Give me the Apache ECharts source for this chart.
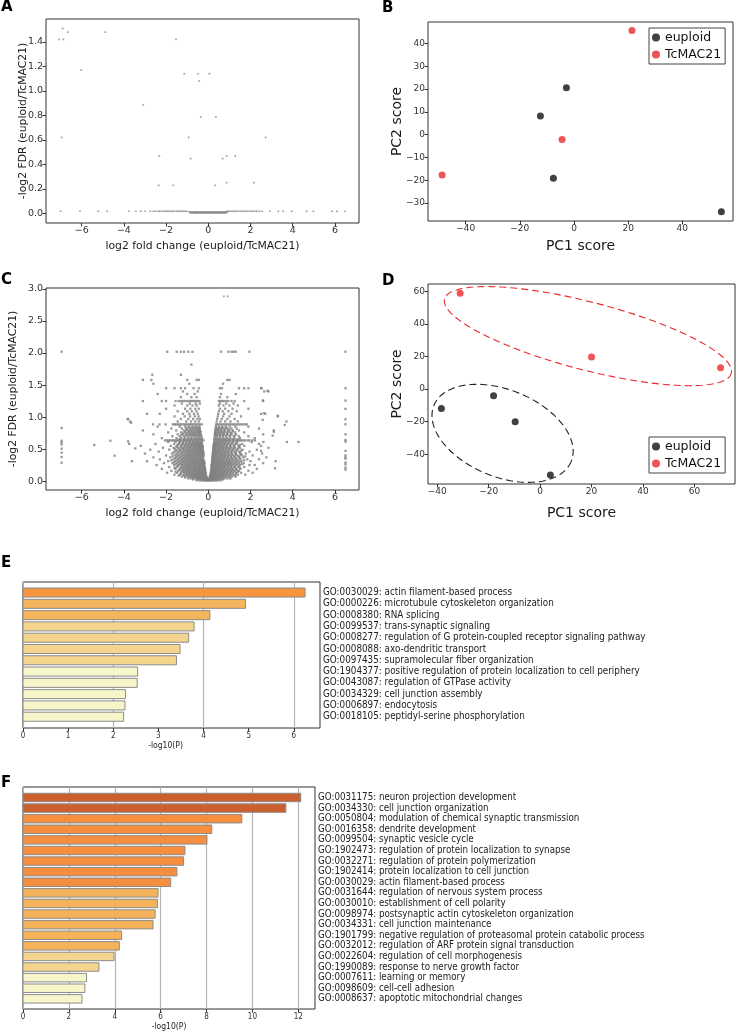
<!DOCTYPE html>
<html><head><meta charset="utf-8">
<script src="https://cdn.jsdelivr.net/npm/echarts@6/dist/echarts.min.js"></script>
<style>html,body{margin:0;padding:0;background:#fff}#c{width:736px;height:1036px}</style>
</head><body><div id="c"></div><script>
// ---------- Panel A : volcano (few significant genes) ----------
const aScatter = [[-6.90,1.51],[-7.07,1.42],[-6.87,1.42],[-6.66,1.48],[-4.88,1.48],[-1.53,1.42],[-6.02,1.17],[-1.14,1.14],[-0.49,1.14],[0.05,1.14],[-0.43,1.08],[-3.08,0.885],[-0.36,0.787],[0.36,0.787],[-6.95,0.62],[-0.93,0.62],[2.72,0.62],[-2.32,0.468],[-0.84,0.447],[0.68,0.447],[0.87,0.468],[1.28,0.468],[-2.35,0.229],[-1.66,0.229],[0.33,0.229],[0.87,0.25],[2.16,0.25]];
const aBaseY = 0.017;
const aBaseX = [-7.0,-6.08,-5.21,-4.79,-3.76,-3.43,-3.2,-3.0,-2.75,-2.6,-2.5,-2.38,-2.3,-2.2,-2.1,-2.02,-1.93,-1.85,-1.76,-1.68,-1.6,-1.5,-1.42,-1.35,-1.27,-1.18,-1.1,-1.03,0.9,0.98,1.06,1.15,1.24,1.32,1.4,1.5,1.58,1.67,1.75,1.84,1.93,2.02,2.1,2.2,2.3,2.42,2.55,2.92,3.32,3.55,3.95,4.66,4.98,5.85,6.09,6.48];
const aCoreHiY = 0.011;
const aCoreHiX = [-0.92,-0.86,-0.81,-0.77,-0.72,-0.66,-0.61,-0.57,-0.52,-0.46,-0.41,-0.37,-0.32,-0.27,-0.22,-0.18,-0.13,-0.08,-0.04,0.01,0.05,0.1,0.14,0.19,0.24,0.28,0.33,0.38,0.43,0.47,0.52,0.57,0.62,0.66,0.71,0.76,0.81,0.86,0.9];
const aCoreLoY = 0.004;
const aCoreLoX = [-0.85,-0.79,-0.74,-0.69,-0.63,-0.58,-0.54,-0.49,-0.43,-0.39,-0.34,-0.29,-0.24,-0.2,-0.15,-0.1,-0.06,-0.02,0.03,0.07,0.12,0.16,0.21,0.26,0.31,0.35,0.4,0.45,0.5,0.55,0.59,0.64,0.69,0.74,0.79,0.84];

// ---------- Panel B : PCA ----------
const bEuploid = [[-2.8,20.6],[-12.4,8.2],[-7.6,-19.2],[54.4,-33.8]];
const bTcMAC21 = [[21.4,45.7],[-4.4,-2.2],[-48.7,-17.7]];

// ---------- Panel C : volcano (many genes) ----------
const cLevelY = [0.01,0.04,0.07,0.10,0.13,0.16,0.19,0.22,0.25,0.28,0.31,0.34,0.37,0.40,0.43,0.46,0.49,0.52,0.55,0.58,0.61,0.635,0.67,0.70,0.73,0.76,0.79,0.82,0.85,0.885,0.93,0.97,1.01,1.05,1.09,1.13,1.18,1.21,1.25,1.31,1.36,1.40,1.45,1.52,1.58,1.66,1.82,2.02];
const cLevelX = [
 [-0.55,-0.42,-0.33,-0.25,-0.18,-0.12,-0.07,-0.03,0.02,0.06,0.11,0.16,0.22,0.29,0.37,0.46,0.58],
 [-0.95,-0.8,-0.68,-0.57,-0.47,-0.39,-0.31,-0.24,-0.17,-0.1,-0.05,0.05,0.1,0.16,0.23,0.31,0.4,0.5,0.62,0.75,0.9,1.05],
 [-1.25,-1.08,-0.94,-0.82,-0.71,-0.6,-0.5,-0.41,-0.33,-0.25,-0.17,-0.09,0.08,0.15,0.23,0.31,0.4,0.49,0.59,0.7,0.83,0.97,1.12,1.3],
 [-1.6,-1.35,-1.17,-1.02,-0.9,-0.79,-0.68,-0.58,-0.48,-0.39,-0.3,-0.21,-0.13,0.1,0.18,0.27,0.36,0.45,0.55,0.66,0.77,0.89,1.03,1.18,1.4,1.75],
 [-1.95,-1.48,-1.3,-1.14,-1.0,-0.87,-0.75,-0.63,-0.53,-0.43,-0.34,-0.25,-0.15,0.12,0.21,0.3,0.4,0.5,0.61,0.73,0.86,1.0,1.15,1.32,1.55,2.1],
 [-1.75,-1.42,-1.25,-1.1,-0.96,-0.83,-0.71,-0.6,-0.49,-0.39,-0.29,-0.18,0.14,0.24,0.35,0.45,0.56,0.68,0.8,0.94,1.09,1.26,1.45,1.9],
 [-2.2,-1.55,-1.36,-1.2,-1.05,-0.92,-0.79,-0.67,-0.56,-0.45,-0.35,-0.24,-0.16,0.15,0.26,0.37,0.48,0.6,0.72,0.85,0.99,1.14,1.31,1.52,2.3],
 [-1.85,-1.5,-1.31,-1.15,-1.0,-0.87,-0.74,-0.62,-0.5,-0.39,-0.27,-0.17,0.17,0.28,0.4,0.52,0.64,0.77,0.91,1.06,1.22,1.41,1.7],
 [-2.45,-1.62,-1.42,-1.25,-1.09,-0.95,-0.82,-0.69,-0.57,-0.45,-0.33,-0.22,0.16,0.25,0.36,0.47,0.59,0.71,0.84,0.98,1.13,1.3,1.5,1.95,2.2],
 [-2.1,-1.7,-1.48,-1.3,-1.14,-1.0,-0.86,-0.73,-0.61,-0.49,-0.37,-0.25,-0.18,0.18,0.3,0.42,0.54,0.66,0.79,0.93,1.08,1.25,1.44,1.68,2.6],
 [-2.9,-1.9,-1.56,-1.37,-1.2,-1.05,-0.91,-0.78,-0.65,-0.53,-0.41,-0.3,-0.2,0.19,0.28,0.39,0.5,0.62,0.75,0.89,1.03,1.19,1.37,1.58,2.0],
 [-2.3,-1.65,-1.44,-1.26,-1.1,-0.96,-0.83,-0.7,-0.58,-0.46,-0.34,-0.23,0.2,0.32,0.44,0.57,0.7,0.84,0.98,1.14,1.31,1.52,1.85,2.4],
 [-2.6,-1.8,-1.52,-1.33,-1.16,-1.01,-0.87,-0.74,-0.62,-0.5,-0.38,-0.27,0.2,0.29,0.4,0.52,0.65,0.78,0.92,1.07,1.24,1.43,1.66,2.75],
 [-2.0,-1.6,-1.4,-1.22,-1.06,-0.92,-0.79,-0.66,-0.54,-0.42,-0.3,-0.22,0.21,0.33,0.46,0.59,0.72,0.86,1.01,1.18,1.37,1.6,2.1],
 [-3.0,-1.72,-1.47,-1.28,-1.12,-0.97,-0.83,-0.7,-0.58,-0.46,-0.35,-0.24,0.22,0.31,0.42,0.55,0.68,0.82,0.97,1.13,1.31,1.52,1.78,2.55],
 [-2.35,-1.58,-1.38,-1.2,-1.04,-0.9,-0.77,-0.64,-0.52,-0.4,-0.28,0.23,0.35,0.48,0.61,0.75,0.9,1.06,1.24,1.45,1.95],
 [-2.75,-1.85,-1.53,-1.33,-1.16,-1.0,-0.86,-0.73,-0.6,-0.48,-0.36,-0.26,0.24,0.33,0.45,0.58,0.71,0.85,1.0,1.17,1.36,1.62,2.3],
 [-2.15,-1.64,-1.42,-1.24,-1.08,-0.93,-0.79,-0.66,-0.54,-0.42,-0.3,0.25,0.37,0.5,0.63,0.77,0.92,1.08,1.27,1.5,2.85],
 [-3.2,-1.78,-1.5,-1.3,-1.13,-0.98,-0.84,-0.71,-0.58,-0.46,-0.35,-0.27,0.25,0.34,0.46,0.59,0.73,0.88,1.04,1.22,1.43,1.7],
 [-2.5,-1.62,-1.4,-1.22,-1.06,-0.91,-0.77,-0.64,-0.52,-0.4,-0.3,0.27,0.38,0.51,0.65,0.8,0.96,1.14,1.35,1.6,2.4],
 [-1.9,-1.55,-1.34,-1.17,-1.01,-0.87,-0.73,-0.6,-0.48,-0.36,0.28,0.4,0.54,0.68,0.83,0.99,1.17,1.38,2.05],
 [-2.05,-1.96,-1.87,-1.81,-1.72,-1.66,-1.57,-1.5,-1.44,-1.35,-1.3,-1.21,-1.15,-1.07,-1.02,-0.93,-0.88,-0.79,-0.74,-0.66,-0.6,-0.51,-0.46,-0.37,-0.3,-0.23,0.29,0.36,0.45,0.5,0.59,0.64,0.73,0.78,0.87,0.92,1.01,1.06,1.15,1.2,1.29,1.36,1.43,1.51,1.57,1.67,1.74,1.86,1.94,2.08,2.21],
 [-2.2,-1.5,-1.28,-1.1,-0.94,-0.8,-0.66,-0.53,-0.41,-0.3,0.3,0.43,0.57,0.72,0.88,1.05,1.25,1.5,2.2],
 [-1.7,-1.36,-1.16,-0.99,-0.84,-0.7,-0.57,-0.44,-0.33,0.31,0.41,0.54,0.68,0.83,1.0,1.2,1.45,1.9],
 [-2.6,-1.45,-1.22,-1.04,-0.88,-0.74,-0.6,-0.47,-0.35,0.32,0.45,0.59,0.74,0.9,1.09,1.32,2.6],
 [-1.9,-1.3,-1.1,-0.93,-0.78,-0.64,-0.5,-0.38,0.33,0.43,0.56,0.7,0.86,1.04,1.27,1.7],
 [-3.1,-1.52,-1.17,-0.98,-0.82,-0.67,-0.53,-0.4,0.34,0.47,0.61,0.77,0.95,1.16,1.45,3.1],
 [-1.75,-1.25,-1.04,-0.87,-0.71,-0.56,-0.42,0.35,0.45,0.58,0.73,0.9,1.1,1.35,2.4],
 [-2.4,-1.35,-1.1,-0.91,-0.74,-0.59,-0.45,0.36,0.5,0.65,0.82,1.02,1.28,1.9],
 [-2.62,-2.31,-2.02,-1.68,-1.6,-1.53,-1.44,-1.36,-1.29,-1.19,-1.11,-1.03,-0.96,-0.87,-0.8,-0.71,-0.63,-0.56,-0.47,-0.4,-0.31,0.36,0.42,0.5,0.58,0.66,0.75,0.84,0.92,1.0,1.09,1.17,1.26,1.36,1.45,1.55,1.64,1.75,1.83],
 [-3.7,-1.45,-1.05,-0.82,-0.62,-0.45,0.4,0.58,0.8,1.05,1.4,3.7],
 [-3.8,-1.3,-0.95,-0.72,-0.52,-0.4,0.42,0.64,0.9,1.25],
 [-1.6,-1.12,-0.86,-0.64,-0.46,0.45,0.7,1.0,1.55,3.3],
 [-2.9,-2.3,-1.2,-0.9,-0.68,-0.5,0.47,0.75,1.1,2.5,2.7],
 [-1.45,-1.0,-0.78,-0.56,0.5,0.68,0.95,1.35],
 [-2.0,-1.1,-0.85,-0.62,-0.45,0.55,0.8,1.15,1.9],
 [-1.6,-1.0,-0.75,-0.55,0.5,0.72,1.0,1.4],
 [-1.25,-0.88,-0.6,-0.4,0.55,0.85,1.2],
 [-3.1,-2.2,-2.0,-1.55,-1.4,-1.3,-1.2,-1.1,-1.0,-0.9,-0.82,-0.74,-0.66,-0.58,-0.5,-0.42,0.5,0.58,0.66,0.75,0.85,0.95,1.1,1.25,1.7,2.6],
 [-1.3,-0.8,-0.55,0.55,0.9],
 [-2.4,-1.0,-0.65,0.6,1.3],
 [-1.2,-0.5,2.65,2.85],
 [-2.0,-1.6,-1.3,-1.1,-0.7,-0.45,0.55,0.65,1.45,1.7,1.9,2.5],
 [-2.6,-0.9,0.7],
 [-3.1,-2.7,-1.0,-0.55,-0.45,0.9,1.0],
 [-2.65,-1.3],
 [-0.8],
 [-1.95,-1.5,-1.3,-1.15,-0.95,-0.75,0.6,0.95,1.1,1.2,1.3,1.95]
];
// second, interleaved set of levels inside the dense core
const cCoreY = [0.025,0.055,0.085,0.115,0.145,0.175,0.205,0.235,0.265,0.295,0.325,0.355,0.385,0.415,0.445,0.475,0.505,0.535,0.565,0.595,0.655,0.715,0.745,0.775,0.805,0.835];
const cCoreX = [
 [-0.72,-0.5,-0.37,-0.28,-0.2,-0.14,-0.08,-0.02,0.04,0.09,0.13,0.19,0.26,0.34,0.44,0.56,0.7],
 [-1.1,-0.87,-0.74,-0.63,-0.53,-0.44,-0.36,-0.28,-0.2,-0.13,-0.07,0.06,0.12,0.2,0.27,0.35,0.45,0.55,0.68,0.82,1.0],
 [-1.4,-1.15,-1.0,-0.88,-0.76,-0.65,-0.55,-0.45,-0.37,-0.29,-0.21,-0.12,0.09,0.17,0.26,0.35,0.44,0.54,0.64,0.76,0.9,1.06,1.25],
 [-1.3,-1.1,-0.96,-0.84,-0.73,-0.62,-0.52,-0.43,-0.35,-0.26,-0.17,-0.11,0.11,0.2,0.29,0.38,0.48,0.58,0.69,0.81,0.95,1.1,1.3],
 [-1.55,-1.2,-1.06,-0.93,-0.81,-0.69,-0.58,-0.47,-0.38,-0.3,-0.2,-0.13,0.13,0.22,0.32,0.43,0.53,0.65,0.77,0.9,1.04,1.2,1.4],
 [-1.35,-1.17,-1.02,-0.89,-0.76,-0.64,-0.53,-0.43,-0.33,-0.22,-0.15,0.14,0.21,0.31,0.42,0.52,0.63,0.75,0.88,1.02,1.17,1.36],
 [-1.6,-1.26,-1.1,-0.96,-0.83,-0.7,-0.58,-0.47,-0.37,-0.26,-0.16,0.16,0.24,0.34,0.45,0.56,0.68,0.81,0.95,1.1,1.28,1.5],
 [-1.45,-1.22,-1.06,-0.92,-0.79,-0.66,-0.54,-0.42,-0.31,-0.2,0.15,0.22,0.32,0.43,0.55,0.67,0.8,0.94,1.09,1.26,1.45],
 [-1.55,-1.35,-1.18,-1.03,-0.89,-0.76,-0.63,-0.51,-0.39,-0.28,-0.19,0.17,0.27,0.38,0.5,0.62,0.75,0.88,1.03,1.19,1.37,1.6],
 [-1.62,-1.41,-1.24,-1.08,-0.94,-0.8,-0.67,-0.55,-0.43,-0.32,-0.22,0.18,0.24,0.35,0.46,0.58,0.71,0.84,0.98,1.14,1.31,1.5],
 [-1.75,-1.5,-1.31,-1.14,-0.99,-0.85,-0.72,-0.59,-0.47,-0.36,-0.25,0.19,0.26,0.37,0.49,0.62,0.76,0.9,1.06,1.23,1.42,1.7],
 [-1.58,-1.38,-1.2,-1.04,-0.9,-0.76,-0.63,-0.51,-0.4,-0.29,0.2,0.3,0.42,0.55,0.68,0.82,0.97,1.13,1.3,1.5],
 [-1.7,-1.46,-1.27,-1.1,-0.95,-0.81,-0.68,-0.56,-0.44,-0.33,-0.24,0.21,0.27,0.38,0.5,0.63,0.77,0.92,1.08,1.26,1.46,1.75],
 [-1.52,-1.32,-1.15,-1.0,-0.86,-0.72,-0.6,-0.48,-0.37,-0.27,0.21,0.3,0.41,0.53,0.66,0.8,0.95,1.11,1.3,1.55],
 [-1.65,-1.42,-1.24,-1.08,-0.93,-0.79,-0.66,-0.54,-0.42,-0.31,-0.23,0.22,0.28,0.39,0.51,0.64,0.78,0.93,1.09,1.28,1.5],
 [-1.48,-1.29,-1.12,-0.97,-0.83,-0.7,-0.57,-0.45,-0.34,-0.25,0.23,0.3,0.41,0.53,0.66,0.8,0.95,1.12,1.31,1.56],
 [-1.6,-1.38,-1.2,-1.04,-0.89,-0.75,-0.62,-0.5,-0.38,-0.28,0.24,0.31,0.43,0.56,0.7,0.85,1.01,1.19,1.4],
 [-1.5,-1.3,-1.13,-0.98,-0.84,-0.7,-0.57,-0.45,-0.34,-0.26,0.25,0.32,0.44,0.57,0.71,0.86,1.02,1.2,1.45],
 [-1.45,-1.26,-1.09,-0.94,-0.8,-0.67,-0.54,-0.43,-0.32,0.26,0.33,0.45,0.58,0.72,0.88,1.05,1.25,1.5],
 [-1.38,-1.2,-1.04,-0.89,-0.75,-0.62,-0.5,-0.39,-0.3,0.27,0.35,0.47,0.61,0.76,0.92,1.1,1.3],
 [-1.35,-1.15,-0.98,-0.83,-0.69,-0.56,-0.44,-0.33,0.29,0.39,0.52,0.66,0.81,0.98,1.18,1.4],
 [-1.28,-1.08,-0.91,-0.76,-0.62,-0.49,-0.37,0.31,0.42,0.55,0.7,0.86,1.04,1.26],
 [-1.2,-1.0,-0.84,-0.69,-0.55,-0.42,0.32,0.44,0.58,0.73,0.9,1.1],
 [-1.1,-0.92,-0.76,-0.61,-0.47,-0.36,0.34,0.46,0.6,0.76,0.94,1.15],
 [-1.05,-0.86,-0.7,-0.55,-0.42,0.35,0.48,0.63,0.8,1.0],
 [-0.98,-0.8,-0.64,-0.5,-0.4,0.37,0.52,0.68,0.86]
];
const cEdgeLeftX = -6.95;
const cEdgeLeftY = [2.02,0.83,0.63,0.605,0.574,0.506,0.443,0.376,0.287];
const cEdgeRightX = 6.5;
const cEdgeRightY = [2.02,1.45,1.257,1.127,0.965,0.887,0.73,0.64,0.615,0.47,0.40,0.37,0.35,0.29,0.26,0.21,0.18];
const cOuter = [[-3.82,0.965],[-3.66,0.912],[-4.64,0.63],[-5.4,0.563],[-3.8,0.62],[-3.75,0.58],[-3.46,0.51],[-4.44,0.396],[-3.62,0.31],[2.53,1.45],[2.8,1.41],[2.58,1.26],[2.64,1.06],[3.29,1.02],[2.58,0.955],[3.62,0.876],[3.11,0.77],[3.05,0.71],[2.61,0.61],[3.72,0.61],[4.27,0.61],[2.5,0.55],[2.5,0.47],[3.19,0.31],[3.16,0.2]];
const cTop = [[0.74,2.885],[0.92,2.885]];

// ---------- Panel D : PCA with ellipses ----------
const dEuploid = [[-38.4,-11.9],[-18.1,-4.1],[-9.7,-20.1],[4.0,-52.7]];
const dTcMAC21 = [[-31.1,58.8],[20.0,19.7],[70.2,13.1]];
// ellipse: centre x, centre y, semi-axis u (x,y), semi-axis v (x,y)
const dTcEllipse = [18.6,32.5,55.8,-22.5,-2.5,-20.5];
const dEuEllipse = [-14.6,-27.2,26.7,-17.2,-6.4,-24.7];

// ---------- Panel E : enrichment ----------
const eTerms = ["GO:0030029: actin filament-based process","GO:0000226: microtubule cytoskeleton organization","GO:0008380: RNA splicing","GO:0099537: trans-synaptic signaling","GO:0008277: regulation of G protein-coupled receptor signaling pathway","GO:0008088: axo-dendritic transport","GO:0097435: supramolecular fiber organization","GO:1904377: positive regulation of protein localization to cell periphery","GO:0043087: regulation of GTPase activity","GO:0034329: cell junction assembly","GO:0006897: endocytosis","GO:0018105: peptidyl-serine phosphorylation"];
const eValues = [6.25,4.93,4.14,3.79,3.67,3.48,3.40,2.54,2.53,2.27,2.26,2.23];
// ---------- Panel F : enrichment ----------
const fTerms = ["GO:0031175: neuron projection development","GO:0034330: cell junction organization","GO:0050804: modulation of chemical synaptic transmission","GO:0016358: dendrite development","GO:0099504: synaptic vesicle cycle","GO:1902473: regulation of protein localization to synapse","GO:0032271: regulation of protein polymerization","GO:1902414: protein localization to cell junction","GO:0030029: actin filament-based process","GO:0031644: regulation of nervous system process","GO:0030010: establishment of cell polarity","GO:0098974: postsynaptic actin cytoskeleton organization","GO:0034331: cell junction maintenance","GO:1901799: negative regulation of proteasomal protein catabolic process","GO:0032012: regulation of ARF protein signal transduction","GO:0022604: regulation of cell morphogenesis","GO:1990089: response to nerve growth factor","GO:0007611: learning or memory","GO:0098609: cell-cell adhesion","GO:0008637: apoptotic mitochondrial changes"];
const fValues = [12.11,11.46,9.54,8.23,8.02,7.06,7.00,6.71,6.44,5.89,5.86,5.76,5.67,4.30,4.20,3.97,3.31,2.77,2.70,2.57];

// tick values
const aXTicks = [-6,-4,-2,0,2,4,6];
const aYTicks = [0,0.2,0.4,0.6,0.8,1.0,1.2,1.4];
const bXTicks = [-40,-20,0,20,40];
const bYTicks = [-30,-20,-10,0,10,20,30,40];
const cYTicks = [0,0.5,1.0,1.5,2.0,2.5,3.0];
const dXTicks = [-40,-20,0,20,40,60];
const dYTicks = [-40,-20,0,20,40,60];
const eXTicks = [0,1,2,3,4,5,6];
const eGridX = [0,2,4,6];
const fXTicks = [0,2,4,6,8,10,12];

// ---------- styles ----------
const eColors = ['#F7943E','#F4B55C','#F4B55C','#F5D48E','#F5D48E','#F5D48E','#F5D48E','#F7F6CB','#F7F6CB','#F7F6CB','#F7F6CB','#F7F6CB'];
const fColors = ['#CB602E','#CB602E','#F58E3F','#F58E3F','#F58E3F','#F58E3F','#F58E3F','#F58E3F','#F58E3F','#F4B35A','#F4B35A','#F4B35A','#F4B35A','#F4B35A','#F4B35A','#F5D48E','#F5D48E','#F7F6CB','#F7F6CB','#F7F6CB'];
const DJ = 'DejaVu Sans';
const COND = 'DejaVu Sans Condensed';
const minus = v => String(v).replace('-', '\u2212');

// build data
const aData = aScatter.concat(aBaseX.map(x=>[x,aBaseY]), aCoreHiX.map(x=>[x,aCoreHiY]), aCoreLoX.map(x=>[x,aCoreLoY]));
let cData = [];
cLevelY.forEach((y,i)=>cLevelX[i].forEach(x=>cData.push([x,y])));
cCoreY.forEach((y,i)=>cCoreX[i].forEach(x=>cData.push([x,y])));
cEdgeLeftY.forEach(y=>cData.push([cEdgeLeftX,y]));
cEdgeRightY.forEach(y=>cData.push([cEdgeRightX,y]));
cData = cData.concat(cOuter);

function axis(o){
  return {
    type:'value', gridIndex:o.g, min:o.min, max:o.max,
    name:o.name, nameLocation:'middle', nameGap:o.gap, nameMoveOverlap:false,
    nameTextStyle:{fontFamily:DJ, fontSize:o.ns, color:'#1a1a1a'},
    axisLine:{show:false, onZero:false}, splitLine:{show:false},
    axisTick:{show:true, length:3.5, lineStyle:{color:'#333', width:1}, customValues:o.ticks},
    axisLabel:{show:true, margin:3, fontFamily:DJ, fontSize:o.ts, color:'#333', customValues:o.ticks, formatter:o.fmt}
  };
}
const gridBase = {show:true, borderColor:'#333', borderWidth:1, containLabel:false};

function ellipseRender(par, color){
  return function(params, api){
    const pts=[];
    for(let k=0;k<=144;k++){
      const t=k/144*2*Math.PI;
      pts.push(api.coord([par[0]+par[2]*Math.cos(t)+par[4]*Math.sin(t), par[1]+par[3]*Math.cos(t)+par[5]*Math.sin(t)]));
    }
    return {type:'polyline', shape:{points:pts}, style:{stroke:color, fill:null, lineWidth:1.1, lineDash:[7,4]}};
  };
}
function barRender(colors, terms, xMax, fs){
  return function(params, api){
    const v = api.value(0), i = api.value(1);
    const a = api.coord([0, i-0.4]), b = api.coord([v, i+0.4]), t = api.coord([xMax, i]);
    return {type:'group', children:[
      {type:'rect', shape:{x:a[0], y:Math.min(a[1],b[1]), width:b[0]-a[0], height:Math.abs(b[1]-a[1])},
       style:{fill:colors[params.dataIndex], stroke:'#8c8c8c', lineWidth:1}},
      {type:'text', x:t[0]+3, y:t[1], style:{text:terms[params.dataIndex], fill:'#222', fontFamily:COND, fontSize:fs,
        align:'left', verticalAlign:'middle', textAlign:'left', textVerticalAlign:'middle'}}
    ]};
  };
}
function barAxis(g, max, ticks, pad, grid){
  return {type:'value', gridIndex:g, min:0, max:max, name:'-log10(P)', nameLocation:'middle', nameGap:13, nameMoveOverlap:false,
     nameTextStyle:{fontFamily:COND, fontSize:8.5, color:'#222', padding:pad},
     axisLine:{show:false, onZero:false}, splitLine:{show:grid, lineStyle:{color:'#b4b4b4', width:1.2}},
     axisTick:{length:3.5, lineStyle:{color:'#333'}, customValues:ticks},
     axisLabel:{fontFamily:COND, fontSize:8, color:'#333', margin:4, customValues:ticks}};
}

const chart = echarts.init(document.getElementById('c'), null, {renderer:'canvas'});
chart.setOption({
  animation:false,
  backgroundColor:'#fff',
  grid:[
    Object.assign({left:46, top:19, width:313, height:204}, gridBase),
    Object.assign({left:428, top:22, width:305, height:199}, gridBase),
    Object.assign({left:46, top:288, width:313, height:202}, gridBase),
    Object.assign({left:428, top:284, width:307, height:200}, gridBase),
    Object.assign({left:23, top:582, width:297, height:146}, gridBase),
    Object.assign({left:23, top:787, width:292, height:222}, gridBase)
  ],
  xAxis:[
    axis({g:0, min:-7.69, max:7.14, ticks:aXTicks, fmt:minus, name:'log2 fold change (euploid/TcMAC21)', gap:18, ns:10.8, ts:9.5}),
    axis({g:1, min:-53.9, max:58.7, ticks:bXTicks, fmt:minus, name:'PC1 score', gap:18, ns:14, ts:9}),
    axis({g:2, min:-7.69, max:7.14, ticks:aXTicks, fmt:minus, name:'log2 fold change (euploid/TcMAC21)', gap:18, ns:10.8, ts:9.5}),
    axis({g:3, min:-43.6, max:75.8, ticks:dXTicks, fmt:minus, name:'PC1 score', gap:22, ns:14, ts:9}),
    barAxis(4, 6.58, eXTicks, [0,12,0,0], false),
    barAxis(5, 12.73, fXTicks, [0,0,0,0], true),
    {type:'value', gridIndex:4, min:0, max:6.58, position:'bottom', axisLine:{show:false, onZero:false}, axisLabel:{show:false},
     axisTick:{show:false, customValues:eGridX}, splitLine:{show:true, lineStyle:{color:'#b4b4b4', width:1.2}}}
  ],
  yAxis:[
    axis({g:0, min:-0.079, max:1.587, ticks:aYTicks, fmt:v=>v.toFixed(1), name:'-log2 FDR (euploid/TcMAC21)', gap:17, ns:10.8, ts:9.5}),
    axis({g:1, min:-37.9, max:49.4, ticks:bYTicks, fmt:minus, name:'PC2 score', gap:24, ns:14, ts:9}),
    axis({g:2, min:-0.14, max:3.016, ticks:cYTicks, fmt:v=>v.toFixed(1), name:'-log2 FDR (euploid/TcMAC21)', gap:27, ns:10.8, ts:9.5}),
    axis({g:3, min:-58.3, max:64.5, ticks:dYTicks, fmt:minus, name:'PC2 score', gap:24, ns:14, ts:9}),
    {type:'value', gridIndex:4, min:-0.935, max:12.0, inverse:true, show:false},
    {type:'value', gridIndex:5, min:-0.99, max:19.96, inverse:true, show:false}
  ],
  legend:[
    {data:['euploid','TcMAC21'], orient:'vertical', left:649, top:28, icon:'circle', itemWidth:8, itemHeight:8, itemGap:4,
     padding:[3,4,3,3], borderColor:'#444', borderWidth:1, textStyle:{fontFamily:DJ, fontSize:12.5, color:'#111'}, selectedMode:false},
    {data:['euploid','TcMAC21'], orient:'vertical', left:649, top:437, icon:'circle', itemWidth:8, itemHeight:8, itemGap:4,
     padding:[3,4,3,3], borderColor:'#444', borderWidth:1, textStyle:{fontFamily:DJ, fontSize:12.5, color:'#111'}, selectedMode:false}
  ],
  series:[
    {type:'scatter', xAxisIndex:0, yAxisIndex:0, data:aData, symbol:'rect', symbolSize:1.7, itemStyle:{color:'#8a8a8a'}, silent:true},
    {type:'scatter', name:'euploid', xAxisIndex:1, yAxisIndex:1, data:bEuploid, symbolSize:7, itemStyle:{color:'#111'}},
    {type:'scatter', name:'TcMAC21', xAxisIndex:1, yAxisIndex:1, data:bTcMAC21, symbolSize:7, itemStyle:{color:'#e8292b'}},
    {type:'scatter', xAxisIndex:2, yAxisIndex:2, data:cData, symbol:'rect', symbolSize:2.3, itemStyle:{color:'#808080'}, silent:true, large:false},
    {type:'scatter', xAxisIndex:2, yAxisIndex:2, data:cTop, symbol:'rect', symbolSize:1.8, itemStyle:{color:'#b07ab0'}, silent:true},
    {type:'custom', xAxisIndex:3, yAxisIndex:3, data:[[dTcEllipse[0],dTcEllipse[1]]], renderItem:ellipseRender(dTcEllipse,'#e8292b'), silent:true, z:1},
    {type:'custom', xAxisIndex:3, yAxisIndex:3, data:[[dEuEllipse[0],dEuEllipse[1]]], renderItem:ellipseRender(dEuEllipse,'#222'), silent:true, z:1},
    {type:'scatter', name:'euploid', xAxisIndex:3, yAxisIndex:3, data:dEuploid, symbolSize:7, itemStyle:{color:'#111'}, z:3},
    {type:'scatter', name:'TcMAC21', xAxisIndex:3, yAxisIndex:3, data:dTcMAC21, symbolSize:7, itemStyle:{color:'#e8292b'}, z:3},
    {type:'custom', xAxisIndex:4, yAxisIndex:4, data:eValues.map((v,i)=>[v,i]), renderItem:barRender(eColors, eTerms, 6.58, 9.8), silent:true, z:3},
    {type:'custom', xAxisIndex:5, yAxisIndex:5, data:fValues.map((v,i)=>[v,i]), renderItem:barRender(fColors, fTerms, 12.73, 9.7), silent:true, z:3}
  ],
  graphic:[
    {type:'text', left:1, top:0, style:{text:'A', font:'bold 15px "DejaVu Sans"', fill:'#000'}},
    {type:'text', left:382, top:1, style:{text:'B', font:'bold 15px "DejaVu Sans"', fill:'#000'}},
    {type:'text', left:1, top:273, style:{text:'C', font:'bold 15px "DejaVu Sans"', fill:'#000'}},
    {type:'text', left:382, top:274, style:{text:'D', font:'bold 15px "DejaVu Sans"', fill:'#000'}},
    {type:'text', left:1, top:556, style:{text:'E', font:'bold 15px "DejaVu Sans"', fill:'#000'}},
    {type:'text', left:1, top:776, style:{text:'F', font:'bold 15px "DejaVu Sans"', fill:'#000'}}
  ]
});
</script></body></html>
